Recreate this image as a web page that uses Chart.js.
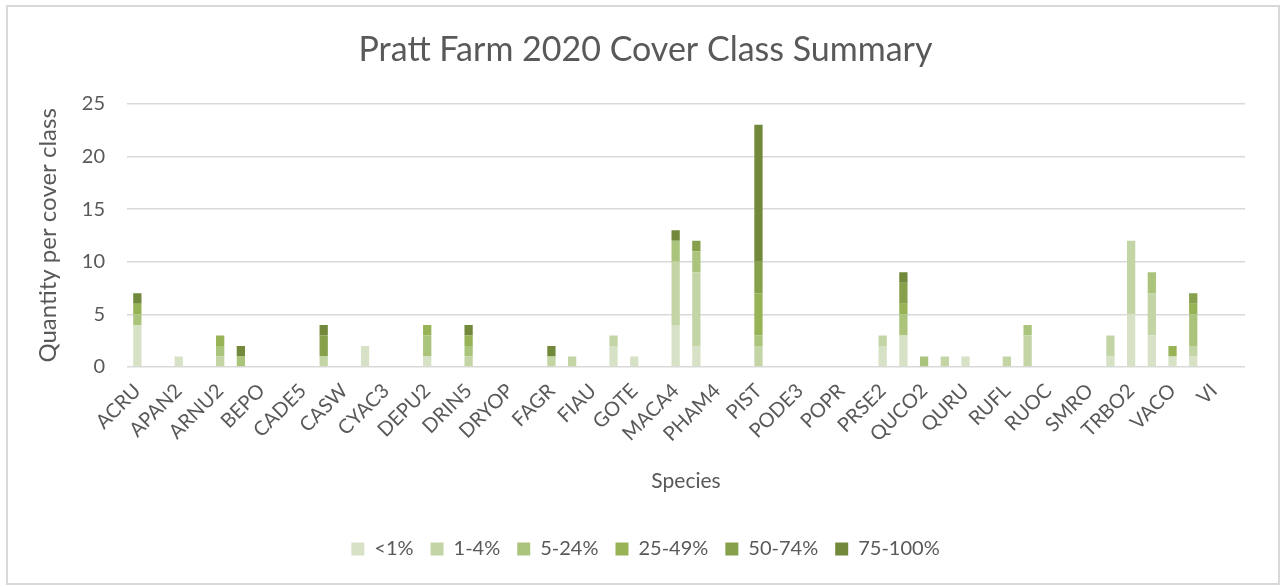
<!DOCTYPE html>
<html>
<head>
<meta charset="utf-8">
<title>Pratt Farm 2020 Cover Class Summary</title>
<script src="https://cdn.jsdelivr.net/npm/chart.js@4.4.1/dist/chart.umd.min.js"></script>
<style>
    html, body { margin: 0; padding: 0; background: #fff; }
    #wrap { position: relative; width: 1282px; height: 587px; }
</style>
</head>
<body>
<div id="wrap"><canvas id="coverChart"></canvas></div>
<script>
// Species codes (only every other one is printed on the axis)
const species = [
    'ACRU', 'AMLA', 'APAN2', 'ARHI', 'ARNU2', 'BEAL2', 'BEPO', 'BETH', 'CADE5', 'CAPE6',
    'CASW', 'CEOR7', 'CYAC3', 'DAGL', 'DEPU2', 'DIVI5', 'DRIN5', 'DRMA2', 'DRYOP', 'EUMA9',
    'FAGR', 'FEPR', 'FIAU', 'FRAL4', 'GOTE', 'LYOB', 'MACA4', 'MAST', 'PHAM4', 'PIAB',
    'PIST', 'PLLA', 'PODE3', 'POGR4', 'POPR', 'PRPE2', 'PRSE2', 'QUAL', 'QUCO2', 'QUPR2',
    'QURU', 'RHCA3', 'RUFL', 'RUHI2', 'RUOC', 'SARA2', 'SMRO', 'SOCA6', 'TRBO2', 'TSCA',
    'VACO', 'VAPA4', 'VI', 'VIAC'
];

const coverClasses = ['<1%', '1-4%', '5-24%', '25-49%', '50-74%', '75-100%'];
const classColors = ['#d7e1c5', '#c3d5a5', '#abc47b', '#97b356', '#86a04b', '#72893c'];

// counts per species for each cover class
const lessThan1 = [
    4, 0, 1, 0, 0, 0, 0, 0, 0, 0,
    0, 2, 0, 0, 1, 0, 0, 0, 0, 0,
    0, 0, 0, 2, 1, 0, 4, 2, 0, 0,
    0, 0, 0, 0, 0, 0, 2, 3, 0, 0,
    1, 0, 0, 0, 0, 0, 0, 1, 5, 3,
    1, 1, 0, 0
];
const pct1to4 = [
    0, 0, 0, 0, 1, 0, 0, 0, 0, 1,
    0, 0, 0, 0, 0, 0, 1, 0, 0, 0,
    1, 1, 0, 1, 0, 0, 6, 7, 0, 0,
    2, 0, 0, 0, 0, 0, 1, 0, 0, 1,
    0, 0, 1, 3, 0, 0, 0, 2, 7, 4,
    0, 1, 0, 0
];
const pct5to24 = [
    1, 0, 0, 0, 1, 1, 0, 0, 0, 0,
    0, 0, 0, 0, 2, 0, 1, 0, 0, 0,
    0, 0, 0, 0, 0, 0, 2, 2, 0, 0,
    1, 0, 0, 0, 0, 0, 0, 2, 1, 0,
    0, 0, 0, 1, 0, 0, 0, 0, 0, 2,
    0, 3, 0, 0
];
const pct25to49 = [
    1, 0, 0, 0, 1, 0, 0, 0, 0, 0,
    0, 0, 0, 0, 1, 0, 1, 0, 0, 0,
    0, 0, 0, 0, 0, 0, 0, 0, 0, 0,
    4, 0, 0, 0, 0, 0, 0, 1, 0, 0,
    0, 0, 0, 0, 0, 0, 0, 0, 0, 0,
    1, 1, 0, 0
];
const pct50to74 = [
    0, 0, 0, 0, 0, 0, 0, 0, 0, 2,
    0, 0, 0, 0, 0, 0, 0, 0, 0, 0,
    0, 0, 0, 0, 0, 0, 0, 1, 0, 0,
    3, 0, 0, 0, 0, 0, 0, 2, 0, 0,
    0, 0, 0, 0, 0, 0, 0, 0, 0, 0,
    0, 1, 0, 0
];
const pct75to100 = [
    1, 0, 0, 0, 0, 1, 0, 0, 0, 1,
    0, 0, 0, 0, 0, 0, 1, 0, 0, 0,
    1, 0, 0, 0, 0, 0, 1, 0, 0, 0,
    13, 0, 0, 0, 0, 0, 0, 1, 0, 0,
    0, 0, 0, 0, 0, 0, 0, 0, 0, 0,
    0, 0, 0, 0
];

const yTicks = [0, 5, 10, 15, 20, 25];

const seriesData = [lessThan1, pct1to4, pct5to24, pct25to49, pct50to74, pct75to100];
const FONT = 'Lato, "Open Sans", sans-serif';
const TEXT_GREY = '#595959';

// light grey frame round the whole chart
const framePlugin = {
    id: 'frame',
    beforeDraw(chart) {
        const ctx = chart.ctx;
        ctx.save();
        ctx.fillStyle = '#ffffff';
        ctx.fillRect(0, 0, chart.width, chart.height);
        ctx.strokeStyle = '#d9d9d9';
        ctx.lineWidth = 2;
        ctx.strokeRect(7, 6, 1272, 578);
        ctx.restore();
    }
};

const ctx = document.getElementById('coverChart').getContext('2d');
const coverChart = new Chart(ctx, {
    type: 'bar',
    data: {
        labels: species,
        datasets: coverClasses.map((name, i) => ({
            label: name,
            data: seriesData[i],
            backgroundColor: classColors[i],
            borderWidth: 0,
            categoryPercentage: 1,
            barPercentage: 0.4
        }))
    },
    options: {
        responsive: true,
        maintainAspectRatio: false,
        animation: false,
        layout: {
            padding: { left: 23, right: 14, top: 0, bottom: 18 }
        },
        scales: {
            x: {
                stacked: true,
                grid: { display: false },
                border: { display: false },
                ticks: {
                    autoSkip: false,
                    minRotation: 45,
                    maxRotation: 45,
                    padding: 4,
                    color: TEXT_GREY,
                    font: { family: FONT, size: 20 },
                    callback: function (value, index) {
                        return index % 2 === 0 ? this.getLabelForValue(value) : '';
                    }
                },
                title: {
                    display: true,
                    text: 'Species',
                    color: TEXT_GREY,
                    font: { family: FONT, size: 21 },
                    padding: { top: 0, bottom: 28 }
                },
                afterFit(scale) { scale.height = 155; }
            },
            y: {
                stacked: true,
                min: 0,
                max: 25,
                afterBuildTicks(scale) {
                    scale.ticks = yTicks.map(v => ({ value: v }));
                },
                grid: {
                    color: '#d9d9d9',
                    lineWidth: 1.5,
                    drawTicks: false
                },
                border: { display: false },
                ticks: {
                    padding: 22,
                    color: TEXT_GREY,
                    font: { family: FONT, size: 20 }
                },
                title: {
                    display: true,
                    text: 'Quantity per cover class',
                    color: TEXT_GREY,
                    font: { family: FONT, size: 24 },
                    padding: { top: 11, bottom: 0 }
                },
                afterFit(scale) { scale.width = 104; }
            },
            // empty strip on the right, keeps the plot narrower than the title band
            spacer: {
                position: 'right',
                display: true,
                grid: { display: false, drawTicks: false },
                border: { display: false },
                ticks: { display: false },
                afterFit(scale) { scale.width = 23; }
            }
        },
        plugins: {
            title: {
                display: true,
                text: 'Pratt Farm 2020 Cover Class Summary',
                color: TEXT_GREY,
                font: { family: FONT, size: 34, weight: 'normal' },
                padding: { top: 30, bottom: 33 }
            },
            legend: {
                position: 'bottom',
                labels: {
                    boxWidth: 13,
                    boxHeight: 13,
                    padding: 17,
                    color: TEXT_GREY,
                    font: { family: FONT, size: 20 }
                }
            },
            tooltip: { enabled: false }
        }
    },
    plugins: [framePlugin]
});
</script>
</body>
</html>
